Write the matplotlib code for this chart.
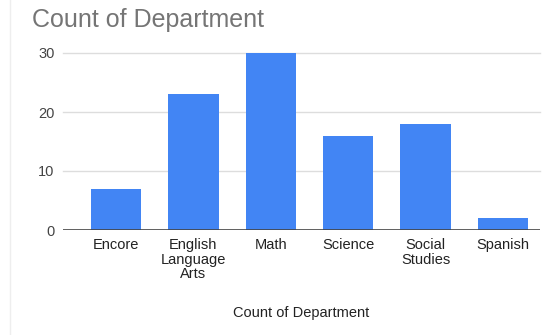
import matplotlib
matplotlib.use("Agg")
import matplotlib.pyplot as plt
from matplotlib.lines import Line2D

categories = ["Encore", "English\nLanguage\nArts", "Math", "Science", "Social\nStudies", "Spanish"]
counts = [7, 23, 30, 16, 18, 2]
yticks = [0, 10, 20, 30]

plt.rcParams['font.family'] = ['Liberation Sans', 'DejaVu Sans']

fig = plt.figure(figsize=(5.49, 3.35), dpi=100)
ax = fig.add_axes([63/549, 1 - 230/335, (540 - 63)/549, (230 - 53)/335])

x = list(range(len(categories)))
ax.bar(x, counts, width=0.65, color="#4285F4", zorder=3)
ax.set_xlim(-0.685, 5.48)
ax.set_ylim(0, 30)
ax.set_yticks(yticks)
ax.set_yticklabels([str(v) for v in yticks], fontsize=10.5, color="#444444")
ax.set_xticks(x)
ax.set_xticklabels(categories, fontsize=10.5, color="#222222", linespacing=1.02, va="top")
ax.tick_params(axis="both", length=0)
ax.tick_params(axis="x", pad=6)
ax.tick_params(axis="y", pad=6)
for v in yticks[1:]:
    ax.axhline(v, color="#dddddd", lw=1, zorder=1, clip_on=False)
ax.axhline(0, color="#444444", lw=1.2, zorder=4)
for s in ax.spines.values():
    s.set_visible(False)
ax.set_xlabel("Count of Department", fontsize=10.5, color="#222222", labelpad=18)

fig.text(32/549, 1 - 20/335, "Count of Department", fontsize=18, color="#757575", va="center", ha="left")

fig.add_artist(Line2D([10/549, 10/549], [0, 1], color="#eeeeee", lw=1))

fig.savefig("out.png", dpi=100)
